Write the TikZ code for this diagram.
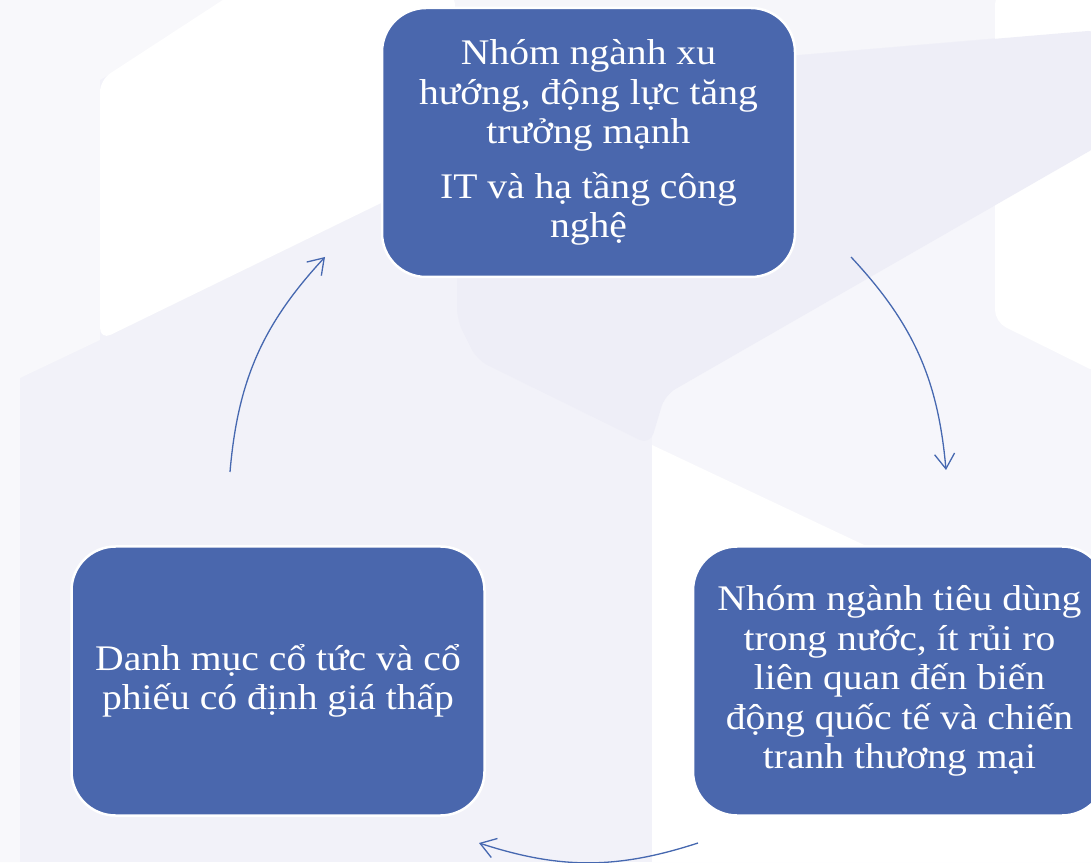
\documentclass[tikz,border=0pt]{standalone}
\usepackage{fontspec}
\setmainfont{Liberation Serif}[FakeStretch=1.1]
\usetikzlibrary{arrows.meta}
\definecolor{boxblue}{HTML}{4A67AD}
\definecolor{arrowblue}{HTML}{4668B0}
\definecolor{bgbase}{HTML}{F2F2F9}
\definecolor{bglight}{HTML}{F8F8FB}
\definecolor{bgtop}{HTML}{F6F6FA}
\definecolor{bgright}{HTML}{F6F6FB}
\definecolor{bgdark}{HTML}{EEEEF7}
\begin{document}
\begin{tikzpicture}[x=1pt,y=1pt,
  stepbox/.style={draw=white, line width=2.5pt, fill=boxblue, rounded corners=44pt,
    minimum width=413pt, minimum height=269pt, text=white, align=center,
    font=\fontsize{36}{39.5}\selectfont, inner sep=0pt},
  cyc/.style={draw=arrowblue, line width=1.3pt,
    -{Straight Barb[length=15pt,width=20pt]}, bend left=19}]
\useasboundingbox (0,0) rectangle (1091,862);
\clip (0,0) rectangle (1091,862);
% background watermark shapes
\fill[bgbase] (0,0) rectangle (1091,862);
\fill[bglight] (0,0) -- (20,0) -- (20,484) -- (100,522) -- (100,782) -- (235,862) -- (0,862) -- cycle;
\fill[white, rounded corners=12pt] (100,522) -- (455,695) -- (455,870) -- (235,870) -- (100,782) -- cycle;
\fill[bgtop] (455,862) -- (1091,862) -- (1091,832) -- (455,778) -- cycle;
\fill[bgright] (652,0) -- (652,442) -- (665,467) -- (1091,717) -- (1091,0) -- cycle;
\fill[white, rounded corners=12pt] (995,870) -- (1100,870) -- (1100,488) -- (995,540) -- cycle;
\fill[white] (652,417) -- (1091,210) -- (1091,0) -- (652,0) -- cycle;
\fill[bgdark, rounded corners=12pt] (457,778) -- (1100,832) -- (1100,717) -- (665,467) -- (650,417) -- (477,502) -- (457,542) -- cycle;
% boxes
\node[stepbox] (top) at (588.5,719.5) {Nhóm ngành xu\\hướng, động lực tăng\\trưởng mạnh\\[15pt]IT và hạ tầng công\\nghệ};
\node[stepbox] (left) at (278,181) {Danh mục cổ tức và cổ\\phiếu có định giá thấp};
\node[stepbox] (right) at (899.5,181) {Nhóm ngành tiêu dùng\\trong nước, ít rủi ro\\liên quan đến biến\\động quốc tế và chiến\\tranh thương mại};
% arrows
\coordinate (a1s) at (851,605);
\coordinate (a1e) at (946,392);
\coordinate (a2s) at (698,19);
\coordinate (a2e) at (479,19);
\coordinate (a3s) at (230,390);
\coordinate (a3e) at (325,605);
\draw[cyc] (a1s) to (a1e);
\draw[cyc, bend left=18] (a2s) to (a2e);
\draw[cyc] (a3s) to (a3e);
\end{tikzpicture}
\end{document}
